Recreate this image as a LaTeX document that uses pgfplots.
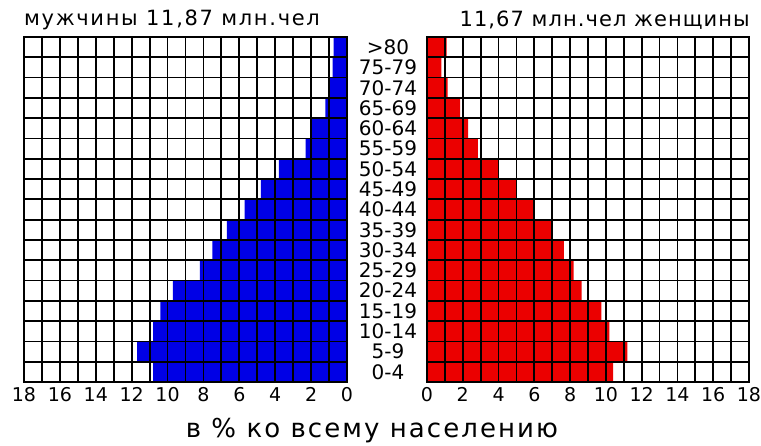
\documentclass[border=0pt]{standalone}
\usepackage{pgfplots}
\pgfplotsset{compat=1.18}
\usepackage{fontspec}
\setmainfont{DejaVu Sans}
\definecolor{mblue}{RGB}{0,0,230}
\definecolor{fred}{RGB}{235,0,0}
\pgfplotstableread{
age men women
0 10.8 10.4
1 11.7 11.2
2 10.8 10.2
3 10.4 9.75
4 9.7 8.65
5 8.2 8.2
6 7.5 7.65
7 6.7 6.95
8 5.7 6.0
9 4.8 5.0
10 3.8 4.0
11 2.3 2.85
12 2.0 2.3
13 1.2 1.85
14 1.05 1.15
15 0.8 0.8
16 0.75 1.1
}\pyr
\pgfplotsset{
  pyr/.style={
    scale only axis, height=345pt, ymin=-0.5, ymax=16.5,
    xmin=0, xmax=18,
    xbar, bar width=1, bar shift=0,
    axis on top,
    xtick={0,2,...,18}, minor xtick={1,3,...,17},
    xmajorgrids, xminorgrids,
    ytick={0,...,16},
    minor ytick={-0.5,0.5,...,16.5}, yminorgrids, ymajorgrids=false,
    major tick length=0pt, minor tick length=0pt,
    grid style={black, line width=1.8pt},
    major grid style={black, line width=1.8pt},
    minor grid style={black, line width=1.8pt},
    axis line style={black, line width=1.8pt},
    /pgf/number format/assume math mode=true,
    tick label style={font=\fontsize{19}{19}\selectfont},
    xticklabel style={yshift=-2pt},
  }
}
\begin{document}
\begin{tikzpicture}[x=1pt,y=1pt]
\path[use as bounding box] (0,0) rectangle (761,445);
\begin{axis}[pyr, at={(24pt,63pt)}, anchor=south west, width=323pt,
  x dir=reverse, yticklabels={}]
\addplot[draw=none, fill=mblue] table[x=men, y=age] {\pyr};
\end{axis}
\begin{axis}[pyr, at={(427pt,63pt)}, anchor=south west, width=322pt,
  yticklabels={0-4,5-9,10-14,15-19,20-24,25-29,30-34,35-39,40-44,45-49,50-54,55-59,60-64,65-69,70-74,75-79,>80},
  yticklabel style={anchor=center, xshift=-39pt, font=\fontsize{20}{20}\selectfont}]
\addplot[draw=none, fill=fred] table[x=women, y=age] {\pyr};
\end{axis}
\node[anchor=west, font=\fontsize{21}{21}\selectfont\addfontfeatures{LetterSpace=8}, inner sep=0pt] at (24,425) {мужчины 11,87 млн.чел};
\node[anchor=east, font=\fontsize{21}{21}\selectfont\addfontfeatures{LetterSpace=5}, inner sep=0pt] at (750,425) {11,67 млн.чел женщины};
\node[font=\fontsize{26}{26}\selectfont\addfontfeatures{LetterSpace=8}, inner sep=0pt] at (372,14) {в \% ко всему населению};
\end{tikzpicture}
\end{document}
